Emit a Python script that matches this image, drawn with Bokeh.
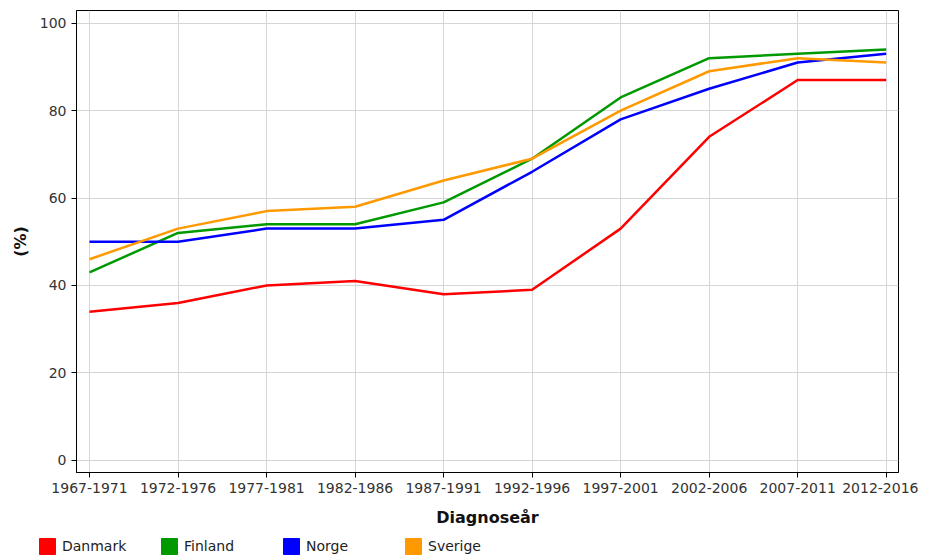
from bokeh.plotting import figure
from bokeh.layouts import column, row
from bokeh.models import Range1d, FixedTicker, Legend, LegendItem
from bokeh.embed import file_html
from bokeh.resources import INLINE

categories = ["1967-1971", "1972-1976", "1977-1981", "1982-1986", "1987-1991",
              "1992-1996", "1997-2001", "2002-2006", "2007-2011", "2012-2016"]
danmark = [34, 36, 40, 41, 38, 39, 53, 74, 87, 87]
finland = [43, 52, 54, 54, 59, 69, 83, 92, 93, 94]
norge = [50, 50, 53, 53, 55, 66, 78, 85, 91, 93]
sverige = [46, 53, 57, 58, 64, 69, 80, 89, 92, 91]
y_ticks = [0, 20, 40, 60, 80, 100]

series = [("Danmark", danmark, "#FF0000"), ("Finland", finland, "#009900"),
          ("Norge", norge, "#0000FF"), ("Sverige", sverige, "#FF9900")]

xs = list(range(len(categories)))

p = figure(frame_width=822, frame_height=462, output_backend="svg", toolbar_location=None,
           x_range=Range1d(-0.147, 9.139), y_range=Range1d(-2.8, 102.9),
           min_border_left=76, min_border_right=20, min_border_top=10, min_border_bottom=60,
           background_fill_color="white", border_fill_color="white")

# separate strip below the chart for the legend (keeps it unclipped)
leg = figure(width=919, height=24, output_backend="svg", toolbar_location=None,
             x_range=Range1d(0, 1), y_range=Range1d(0, 1),
             min_border=0, min_border_left=0, min_border_right=0,
             min_border_top=0, min_border_bottom=0,
             x_axis_type=None, y_axis_type=None, outline_line_color=None,
             background_fill_color="white", border_fill_color="white")
leg.grid.visible = False

FONT = "DejaVu Sans"
items = []
for name, vals, col in series:
    p.line(xs, vals, line_color=col, line_width=2.5)
    # legend swatch renderer: data lies outside the strip's ranges, so only the swatch shows
    sq = leg.quad(left=xs, right=xs, top=vals, bottom=vals, fill_color=col, line_color=col)
    items.append(LegendItem(label=name, renderers=[sq]))

p.xaxis.ticker = FixedTicker(ticks=xs)
p.xaxis.major_label_overrides = {i: c for i, c in enumerate(categories)}
p.yaxis.ticker = FixedTicker(ticks=y_ticks)
p.xgrid.ticker = FixedTicker(ticks=xs)
p.ygrid.ticker = FixedTicker(ticks=y_ticks)

for ax in (p.xaxis[0], p.yaxis[0]):
    ax.major_label_text_font = FONT
    ax.major_label_text_font_size = "14px"
    ax.major_label_text_color = "#333333"
    ax.axis_label_text_font = FONT
    ax.axis_label_text_font_size = "16px"
    ax.axis_label_text_font_style = "bold"
    ax.axis_label_text_color = "#111111"
    ax.minor_tick_line_color = None
    ax.major_tick_out = 5
    ax.major_tick_in = 0
    ax.axis_line_color = "black"
    ax.major_tick_line_color = "black"
    ax.major_label_standoff = 5

p.xaxis.axis_label = "Diagnoseår"
p.yaxis.axis_label = "(%)"
p.xaxis.axis_label_standoff = 12
p.yaxis.axis_label_standoff = 7

p.grid.grid_line_color = "#D6D6D6"
p.grid.grid_line_width = 1
p.outline_line_color = "black"
p.outline_line_width = 1
p.outline_line_alpha = 1

legend = Legend(items=items, orientation="horizontal", location=(37, 0),
                glyph_width=20, glyph_height=20, label_standoff=5, label_width=92,
                spacing=5, padding=0, margin=0, border_line_color=None,
                background_fill_alpha=0,
                label_text_font=FONT, label_text_font_size="14px",
                label_text_color="#222222")
leg.add_layout(legend, "center")

layout = column(p, row(leg), spacing=0)
open("out.html", "w").write(file_html(layout, INLINE))
